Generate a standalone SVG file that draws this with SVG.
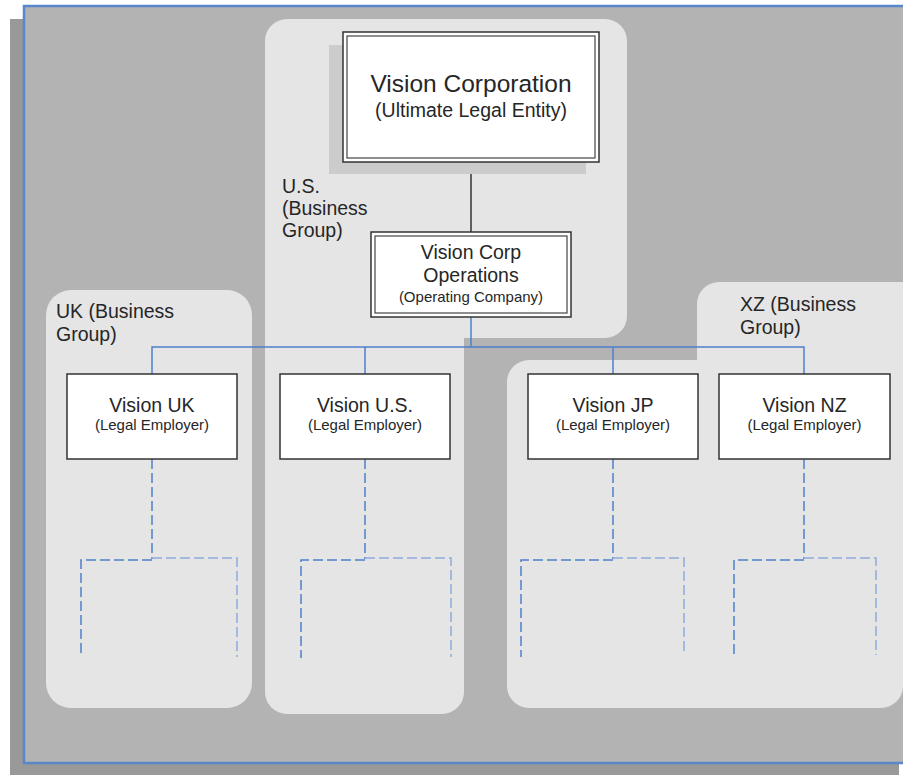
<svg xmlns="http://www.w3.org/2000/svg" width="903" height="775" viewBox="0 0 903 775">
<style>
text{font-family:"Liberation Sans",Arial,sans-serif;fill:#262626;}
.grp{fill:#e5e5e5;}
.box{fill:#ffffff;stroke:#333333;stroke-width:1.5;}
.dbl{fill:none;stroke:#444444;stroke-width:1.2;}
.t1{font-size:19.5px;text-anchor:middle;}
.t2{font-size:15px;text-anchor:middle;}
.lbl{font-size:19.5px;}
.solid{fill:none;stroke:#4f7fcc;stroke-width:1.5;}
.dash{fill:none;stroke:#4f7fcc;stroke-width:1.5;stroke-dasharray:10 4;}
.dashl{fill:none;stroke:#8eaadb;stroke-width:1.5;stroke-dasharray:10 4;}
</style>
<rect x="0" y="0" width="903" height="775" fill="#ffffff"/>
<g id="background">
<rect x="10" y="19" width="889" height="770" fill="#999999"/>
<rect x="24" y="6" width="900" height="757" fill="#b3b3b3" stroke="#5a87c9" stroke-width="2.5"/>
</g>
<g id="group-us">
<rect class="grp" x="265" y="19" width="362" height="319" rx="22"/>
<rect class="grp" x="265" y="200" width="199" height="514" rx="22"/>
<text class="lbl" x="282" y="193">U.S.</text>
<text class="lbl" x="282" y="215">(Business</text>
<text class="lbl" x="282" y="237">Group)</text>
</g>
<g id="group-uk">
<rect class="grp" x="46" y="290" width="206" height="418" rx="25"/>
<text class="lbl" x="56" y="318">UK (Business</text>
<text class="lbl" x="56" y="341">Group)</text>
</g>
<g id="group-xz">
<rect class="grp" x="697" y="282" width="240" height="200" rx="22"/>
<rect class="grp" x="507" y="360" width="396" height="348" rx="22"/>
<text class="lbl" x="740" y="311">XZ (Business</text>
<text class="lbl" x="740" y="334">Group)</text>
</g>
<g id="connectors">
<line x1="471" y1="162" x2="471" y2="232" stroke="#333333" stroke-width="1.5"/>
<polyline class="solid" points="471,317 471,347"/>
<polyline class="solid" points="152,374 152,347 804,347 804,374"/>
<line class="solid" x1="365" y1="347" x2="365" y2="374"/>
<line class="solid" x1="613" y1="347" x2="613" y2="374"/>
<path class="dash" d="M152,459 V559 M152,560 H81 V655"/>
<path class="dashl" d="M152,558 H237 V657"/>
<path class="dash" d="M365,459 V559 M365,560 H301 V658"/>
<path class="dashl" d="M365,558 H451 V657"/>
<path class="dash" d="M613,459 V559 M613,560 H521 V657"/>
<path class="dashl" d="M613,558 H684 V655"/>
<path class="dash" d="M804,459 V559 M804,560 H734 V655"/>
<path class="dashl" d="M804,558 H876 V655"/>
</g>
<g id="node-vision-corporation">
<rect x="329" y="45" width="257" height="129" fill="#cccccc"/>
<rect class="box" x="343" y="32" width="256" height="130"/>
<rect class="dbl" x="347" y="36" width="248" height="122"/>
<text class="t1" x="471" y="92" style="font-size:24.5px">Vision Corporation</text>
<text class="t1" x="471" y="117" style="font-size:19.5px">(Ultimate Legal Entity)</text>
</g>
<g id="node-vision-corp-operations">
<rect class="box" x="371" y="232" width="200" height="85"/>
<rect class="dbl" x="375" y="236" width="192" height="77"/>
<text class="t1" x="471" y="259">Vision Corp</text>
<text class="t1" x="471" y="282">Operations</text>
<text class="t2" x="471" y="302">(Operating Company)</text>
</g>
<g id="node-vision-uk">
<rect class="box" x="67" y="374" width="170" height="85"/>
<text class="t1" x="152" y="412">Vision UK</text>
<text class="t2" x="152" y="430">(Legal Employer)</text>
</g>
<g id="node-vision-us">
<rect class="box" x="280" y="374" width="170" height="85"/>
<text class="t1" x="365" y="412">Vision U.S.</text>
<text class="t2" x="365" y="430">(Legal Employer)</text>
</g>
<g id="node-vision-jp">
<rect class="box" x="528" y="374" width="170" height="85"/>
<text class="t1" x="613" y="412">Vision JP</text>
<text class="t2" x="613" y="430">(Legal Employer)</text>
</g>
<g id="node-vision-nz">
<rect class="box" x="719" y="374" width="171" height="85"/>
<text class="t1" x="804.5" y="412">Vision NZ</text>
<text class="t2" x="804.5" y="430">(Legal Employer)</text>
</g>
</svg>
